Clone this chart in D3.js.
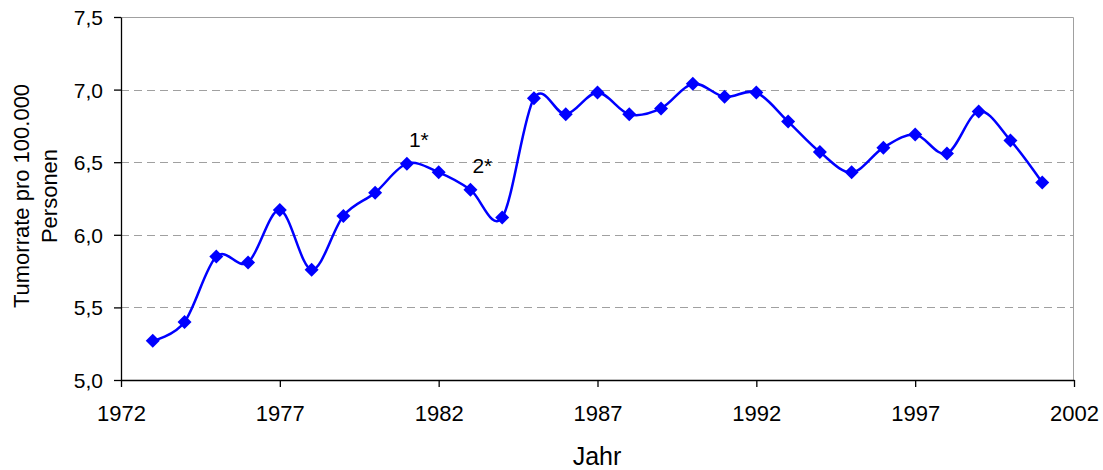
<!DOCTYPE html>
<html>
<head>
<meta charset="utf-8">
<script src="https://d3js.org/d3.v7.min.js"></script>
<style>
  body { margin: 0; background: #fff; }
  svg text { font-family: "Liberation Sans", Arial, sans-serif; fill: #000; }
</style>
</head>
<body>
<div id="chart"></div>
<script>
// data
var years = [1973, 1974, 1975, 1976, 1977, 1978, 1979, 1980, 1981, 1982,
             1983, 1984, 1985, 1986, 1987, 1988, 1989, 1990, 1991, 1992,
             1993, 1994, 1995, 1996, 1997, 1998, 1999, 2000, 2001];
var rates = [5.27, 5.40, 5.85, 5.81, 6.17, 5.76, 6.13, 6.29, 6.49, 6.43,
             6.31, 6.12, 6.94, 6.83, 6.98, 6.83, 6.87, 7.04, 6.95, 6.98,
             6.78, 6.57, 6.43, 6.60, 6.69, 6.56, 6.85, 6.65, 6.36];
var xTicks = [1972, 1977, 1982, 1987, 1992, 1997, 2002];
var yTicks = [5.0, 5.5, 6.0, 6.5, 7.0, 7.5];
var notes = [{ year: 1981, value: 6.49, label: '1*' },
             { year: 1983, value: 6.31, label: '2*' }];

var width = 1103, height = 470;
var margin = { top: 17, right: 29, bottom: 90, left: 121 };
var w = width - margin.left - margin.right,
    h = height - margin.top - margin.bottom;

var svg = d3.select('#chart').append('svg')
    .attr('width', width)
    .attr('height', height);
var g = svg.append('g')
    .attr('transform', 'translate(' + margin.left + ',' + margin.top + ')');

var x = d3.scaleLinear().domain([1972, 2002]).range([0, w]);
var y = d3.scaleLinear().domain([5, 7.5]).range([h, 0]);
var fmt = function (d) { return d3.format('.1f')(d).replace('.', ','); };

// dashed gridlines
g.append('g').selectAll('line')
    .data(yTicks.filter(function (d) { return d > 5 && d < 7.5; }))
    .join('line')
    .attr('x1', 0).attr('x2', w)
    .attr('y1', function (d) { return Math.round(y(d)) + 0.5; })
    .attr('y2', function (d) { return Math.round(y(d)) + 0.5; })
    .attr('stroke', '#a0a0a0')
    .attr('stroke-width', 1)
    .attr('stroke-dasharray', '8,5');

// plot frame top / right (grey)
g.append('path')
    .attr('d', 'M0,0.5H' + (w - 0.5) + 'V' + h)
    .attr('fill', 'none')
    .attr('stroke', '#a0a0a0')
    .attr('stroke-width', 1);

// axes
var yAxis = g.append('g')
    .call(d3.axisLeft(y).tickValues(yTicks).tickFormat(fmt).tickSize(7).tickSizeOuter(0));
var xAxis = g.append('g')
    .attr('transform', 'translate(0,' + h + ')')
    .call(d3.axisBottom(x).tickValues(xTicks).tickFormat(d3.format('d')).tickSize(7).tickSizeOuter(0));

[xAxis, yAxis].forEach(function (a) {
    a.select('.domain').attr('stroke', '#000').attr('stroke-width', 1.3);
    a.selectAll('.tick line').attr('stroke', '#000').attr('stroke-width', 1.3);
    a.selectAll('.tick text').style('font-size', '21px').attr('fill', '#000');
});
yAxis.selectAll('.tick text').attr('x', -18).attr('dy', '0.36em');
xAxis.selectAll('.tick text').attr('y', 25).attr('dy', '0.71em').style('font-size', '22px');

// smoothed line
var line = d3.line()
    .curve(d3.curveCardinal.tension(0))
    .x(function (d, i) { return x(years[i]); })
    .y(function (d) { return y(d); });

g.append('path')
    .datum(rates)
    .attr('d', line)
    .attr('fill', 'none')
    .attr('stroke', '#0000ff')
    .attr('stroke-width', 2.5);

// diamond markers
g.append('g').selectAll('path')
    .data(rates)
    .join('path')
    .attr('transform', function (d, i) { return 'translate(' + x(years[i]) + ',' + y(d) + ')'; })
    .attr('d', 'M0,-7L7,0L0,7L-7,0Z')
    .attr('fill', '#0000ff');

// annotations
g.append('g').selectAll('text')
    .data(notes)
    .join('text')
    .attr('x', function (d) { return x(d.year) + 2; })
    .attr('y', function (d) { return y(d.value) - 17; })
    .attr('text-anchor', 'start')
    .style('font-size', '21px')
    .text(function (d) { return d.label; });

// axis titles
svg.append('text')
    .attr('x', 597)
    .attr('y', 465)
    .attr('text-anchor', 'middle')
    .style('font-size', '25px')
    .text('Jahr');

var yt = svg.append('text')
    .attr('transform', 'translate(29,196) rotate(-90)')
    .attr('text-anchor', 'middle')
    .style('font-size', '22px');
yt.append('tspan').attr('x', 0).attr('dy', 0).text('Tumorrate pro 100.000');
yt.append('tspan').attr('x', 0).attr('dy', 28).text('Personen');
</script>
</body>
</html>
